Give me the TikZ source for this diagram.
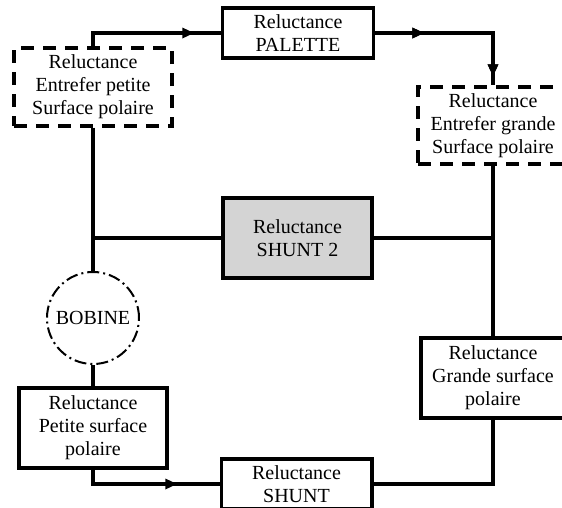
\documentclass[tikz,border=0pt]{standalone}
\usepackage{fontspec}
\setmainfont{Liberation Serif}
\usetikzlibrary{arrows.meta,decorations.markings}
\definecolor{shade}{RGB}{212,212,212}
\tikzset{
  box/.style={draw, line width=2.5pt, inner sep=0pt, align=center,
    font=\fontsize{15pt}{17.25pt}\selectfont},
  dbox/.style={box, dash pattern=on 10pt off 6.5pt},
  circ/.style={draw, circle, line width=1.5pt, inner sep=0pt,
    dash pattern=on 9pt off 3pt on 1.5pt off 3pt,
    font=\fontsize{15pt}{17.25pt}\selectfont},
  wire/.style={line width=2.3pt},
  arrowat/.style={postaction={decorate}, decoration={markings,
    mark=at position #1 with {\arrow{Triangle[length=9pt,width=7.5pt]}}}},
}
\begin{document}
\begin{tikzpicture}[x=0.75pt,y=-0.75pt]
\useasboundingbox (0,0) rectangle (562,508);
\clip (0,0) rectangle (562,508);
\node[dbox, minimum width=118.5pt, minimum height=58.5pt] (tl) at (93,87) {Reluctance\\Entrefer petite\\Surface polaire};
\node[box, minimum width=113pt, minimum height=37.5pt] (pal) at (298,33) {Reluctance\\PALETTE};
\node[dbox, minimum width=112.5pt, minimum height=57.75pt] (tr) at (493,125.5) {Reluctance\\Entrefer grande\\Surface polaire};
\node[box, fill=shade, minimum width=111.75pt, minimum height=60pt] (sh2) at (297.5,238) {Reluctance\\SHUNT 2};
\node[circ, minimum size=69pt] (bob) at (93,318) {BOBINE};
\node[box, minimum width=111pt, minimum height=60pt] (pet) at (93,428) {Reluctance\\Petite surface\\polaire};
\node[box, minimum width=108pt, minimum height=60pt] (gr) at (493,378) {Reluctance\\Grande surface\\polaire};
\node[box, minimum width=113pt, minimum height=37.5pt] (sh) at (296.5,484) {Reluctance\\SHUNT};
\coordinate (jl) at (93,238);
\coordinate (jr) at (493,238);
\draw[wire, arrowat=86pt] (tl.north) |- (pal.west);
\draw[wire, arrowat=37pt, arrowat=121pt] (pal.east) -| (tr.north);
\draw[wire] (tr.south) -- (gr.north);
\draw[wire] (gr.south) |- (sh.east);
\draw[wire, arrowat=74pt] (pet.south) |- (sh.west);
\draw[wire] (tl.south) -- (bob.north);
\draw[wire] (bob.south) -- (pet.north);
\draw[wire] (jl) -- (sh2.west);
\draw[wire] (sh2.east) -- (jr);
\end{tikzpicture}
\end{document}
